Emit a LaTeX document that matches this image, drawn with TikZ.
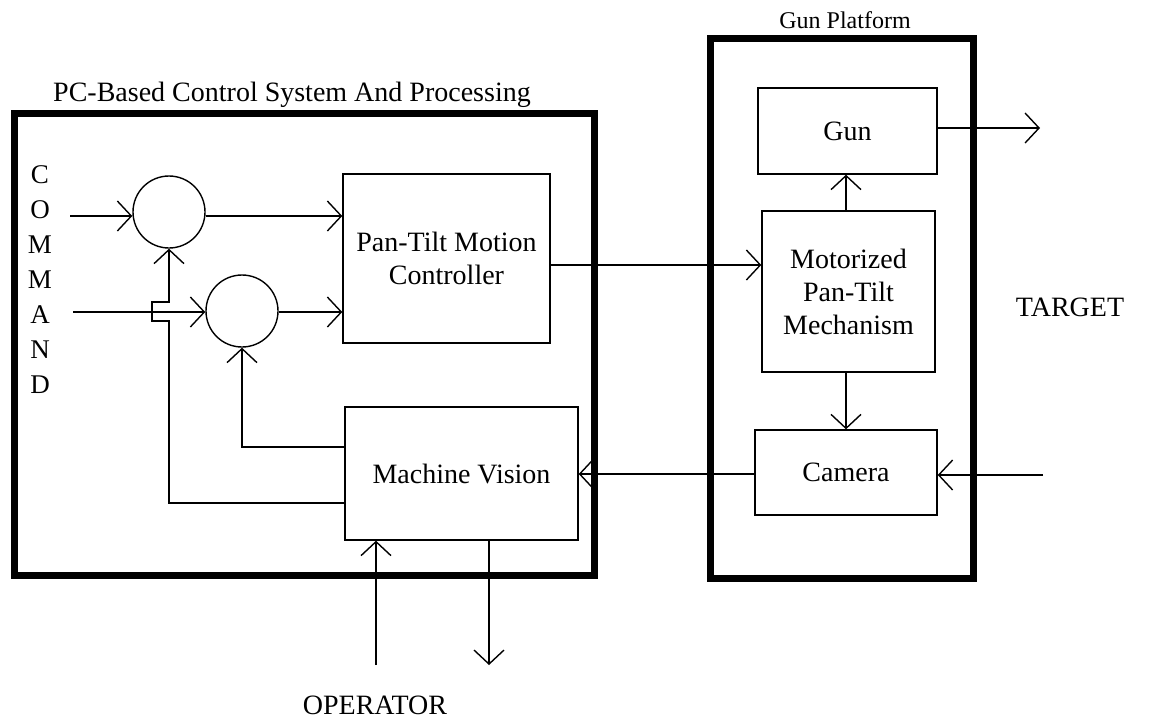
\documentclass[tikz,border=0pt]{standalone}
\usepackage{fontspec}
\setmainfont{Liberation Serif}
\usetikzlibrary{arrows.meta}
\begin{document}
\begin{tikzpicture}[x=1pt,y=-1pt,
  line width=1.4pt,
  txt/.style={font=\fontsize{28}{33}\selectfont},
  blk/.style={draw, line width=1.4pt, inner sep=0pt, txt, align=center},
  sumc/.style={draw, circle, line width=1.4pt, minimum size=72pt, inner sep=0pt},
  frame/.style={draw, line width=7pt},
  arr/.style={-{Straight Barb[length=14pt,width=30pt]}},
]
\useasboundingbox (0,0) rectangle (1149,724);
% frames
\draw[frame] (14,113) rectangle (594,575);
\draw[frame] (710,38) rectangle (973,578);
\node[txt] (t1) at (292,95) {PC-Based Control System And Processing};
\node[txt, font=\fontsize{24}{29}\selectfont] (t2) at (845,20) {Gun Platform};
% blocks
\node[blk, minimum width=179pt, minimum height=86pt] (gun) at (847.5,131) {Gun};
\node[blk, minimum width=173pt, minimum height=161pt] (mot) at (848.5,291.5) {Motorized\\Pan-Tilt\\Mechanism};
\node[blk, minimum width=182pt, minimum height=85pt] (cam) at (846,472.5) {Camera};
\node[blk, minimum width=233pt, minimum height=133pt] (mv) at (461.5,473.5) {Machine Vision};
\node[blk, minimum width=207pt, minimum height=169pt] (ptc) at (446.5,258.5) {Pan-Tilt Motion\\Controller};
\node[sumc] (c1) at (169,212) {};
\node[sumc] (c2) at (242,311) {};
% labels
\node[txt, align=center, font=\fontsize{27}{35}\selectfont] (cmd) at (40,280) {C\\O\\M\\M\\A\\N\\D};
\node[txt] (tgt) at (1070,307) {TARGET};
\node[txt] (op) at (375,705) {OPERATOR};
% coordinates
\coordinate (in1) at (70,216);
\coordinate (in2) at (73,312);
\coordinate (gunout) at (1040,128);
\coordinate (tgtin) at (1043,475);
\coordinate (opin) at (376,665);
\coordinate (opout) at (489,665);
\coordinate (vx) at (846,0);
\coordinate (hy) at (0,474);
% connectors
\draw[arr] (in1) -- (c1.west |- in1);
\draw[arr] (in2) -- (c2.west |- in2);
\draw[arr] (c1.east |- in1) -- (ptc.west |- in1);
\draw[arr] (c2.east |- in2) -- (ptc.west |- in2);
\draw[arr] (ptc.east |- 0,265) -- (mot.west |- 0,265);
\draw[arr] (vx |- mot.north) -- (vx |- gun.south);
\draw[arr] (vx |- mot.south) -- (vx |- cam.north);
\draw[arr] (gun.east |- gunout) -- (gunout);
\draw[arr] (tgtin) -- (cam.east |- tgtin);
\draw[arr] (cam.west |- hy) -- (mv.east |- hy);
\draw[arr] (mv.west |- 0,447) -- (242,447) -- (c2.south);
\draw[arr] (mv.west |- 0,503) -- (169,503) -- (169,321) -- (152,321) -- (152,302) -- (169,302) -- (c1.south);
\draw[arr] (opin) -- (opin |- mv.south);
\draw[arr] (opout |- mv.south) -- (opout);
\end{tikzpicture}
\end{document}
